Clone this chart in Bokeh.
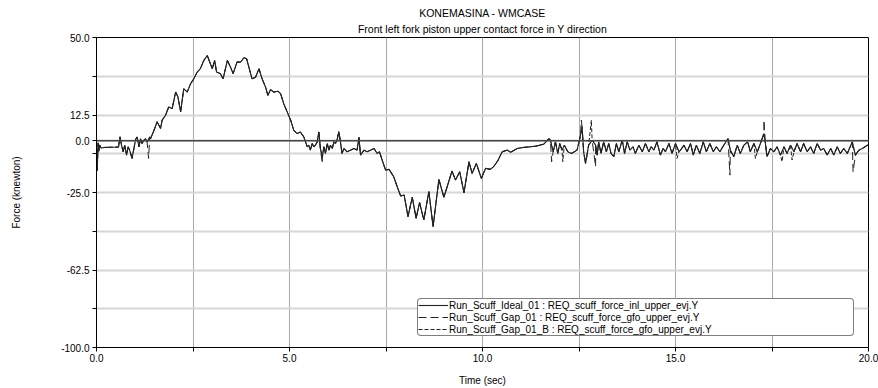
from bokeh.plotting import figure
from bokeh.models import Range1d, FixedTicker, Title, Legend, LegendItem, Span
from bokeh.embed import file_html
from bokeh.resources import INLINE

title_main = "KONEMASINA - WMCASE"
title_sub = "Front left fork piston upper contact force in Y direction"
x_label = "Time (sec)"
y_label = "Force (knewton)"
series_names = [
    "Run_Scuff_Ideal_01 : REQ_scuff_force_inl_upper_evj.Y",
    "Run_Scuff_Gap_01 : REQ_scuff_force_gfo_upper_evj.Y",
    "Run_Scuff_Gap_01_B : REQ_scuff_force_gfo_upper_evj.Y",
]

x_ticks = [0, 2.5, 5, 7.5, 10, 12.5, 15, 17.5, 20]
x_tick_labels = {0: "0.0", 5: "5.0", 10: "10.0", 15: "15.0", 20: "20.0"}
y_ticks = [-100, -81.25, -62.5, -43.75, -25, -6.25, 0, 12.5, 31.25, 50]
y_tick_labels = {50: "50.0", 12.5: "12.5", 0: "0.0", -25: "-25.0", -62.5: "-62.5", -100: "-100.0"}

# Run_Scuff_Ideal_01 (time in s, force in knewton)
ideal_t = [
    0.00, 0.02, 0.04, 0.06, 0.08, 0.12, 0.20, 0.57, 0.61, 0.64, 0.69, 0.73, 0.78, 0.82, 0.86,
    0.92, 0.97, 1.01, 1.05, 1.10, 1.14, 1.18, 1.23, 1.27, 1.31, 1.38,
    1.40, 1.49, 1.57, 1.66, 1.70, 1.79, 1.87, 1.96, 2.05, 2.11, 2.18, 2.26, 2.35, 2.44, 2.52,
    2.61, 2.69, 2.78, 2.87, 2.95, 3.00, 3.06, 3.11, 3.21, 3.28, 3.39, 3.47, 3.54, 3.64, 3.73,
    3.82, 3.89, 3.97, 4.03, 4.12, 4.21, 4.29, 4.38, 4.44, 4.51, 4.59, 4.70, 4.77, 4.85, 4.94,
    5.03, 5.11, 5.20, 5.28, 5.37, 5.46,
    5.50, 5.54, 5.59, 5.63, 5.67, 5.72, 5.76, 5.80, 5.85, 5.89, 5.93, 5.98, 6.02, 6.06, 6.11,
    6.15, 6.19, 6.23, 6.28, 6.32, 6.36, 6.41, 6.49, 6.58, 6.67, 6.75, 6.80, 6.84, 6.93, 7.01,
    7.10, 7.19, 7.27, 7.33,
    7.40, 7.49, 7.58, 7.70, 7.79, 7.88, 7.97, 8.07, 8.18, 8.28, 8.37, 8.48, 8.61, 8.72, 8.87,
    9.00, 9.21, 9.30, 9.41, 9.52, 9.65, 9.73, 9.84, 9.97, 10.08, 10.20, 10.29, 10.40, 10.51,
    10.64, 10.73, 10.90, 11.05, 11.24, 11.40, 11.59, 11.72,
    11.76, 11.83, 11.89, 11.95, 12.00, 12.06, 12.12, 12.21, 12.30, 12.38, 12.45, 12.54, 12.58,
    12.62, 12.67, 12.75, 12.84, 12.93, 12.97, 13.01, 13.07, 13.14, 13.21, 13.27, 13.33, 13.40,
    13.47, 13.53, 13.62, 13.68, 13.75, 13.82, 13.90, 13.96, 14.05, 14.14, 14.22, 14.31, 14.37,
    14.44, 14.52, 14.61, 14.68, 14.74, 14.83, 14.91, 15.00, 15.09,
    15.13, 15.22, 15.30, 15.39, 15.46, 15.54, 15.63, 15.72, 15.80, 15.89, 15.98, 16.06, 16.15,
    16.25, 16.36, 16.42, 16.51, 16.60, 16.68, 16.77, 16.87, 16.94, 17.03, 17.12, 17.20, 17.29,
    17.33, 17.37, 17.46, 17.55, 17.63, 17.72, 17.81, 17.89, 17.98, 18.07, 18.15, 18.24, 18.32,
    18.41, 18.50, 18.58, 18.67, 18.76, 18.84, 18.93, 19.02, 19.10, 19.19, 19.27, 19.36, 19.45,
    19.58, 19.66, 19.75, 19.84, 19.97, 20.00,
]
ideal_v = [
    -3.0, -14.5, -1.0, -5.0, -2.0, -3.5, -3.2, -3.0, 1.9, -1.3, -5.3, -2.1, -6.9, -2.9, -4.5,
    -8.5, -3.7, 0.5, 1.9, -2.9, 1.1, -1.3, 0.3, 1.1, -0.5, 1.9,
    1.0, 5.1, 9.2, 6.0, 10.0, 12.4, 16.4, 15.6, 23.6, 21.2, 14.0, 25.2, 23.6, 27.7, 30.0,
    33.3, 34.9, 38.9, 41.3, 37.3, 34.9, 38.9, 33.3, 32.5, 30.0, 38.9, 35.7, 32.5, 38.1, 38.1,
    40.2, 39.7, 34.1, 30.0, 30.8, 34.9, 30.0, 26.0, 22.0, 24.8, 23.6, 24.0, 22.8, 18.0, 14.0,
    10.0, 5.1, 3.5, 4.3, 1.9, -2.9,
    -2.1, -4.5, -1.3, -2.9, -2.1, -0.5, 4.3, -3.7, -8.0, -2.9, -6.1, -1.3, -4.5, -2.1, -3.7,
    -0.5, -1.3, 0.3, 4.3, -0.5, -6.1, -3.7, -5.3, -4.5, -3.7, -4.5, 1.6, -6.9, -4.5, -5.3,
    -4.5, -3.7, -6.1, -5.3,
    -9.3, -14.2, -13.8, -17.4, -22.2, -26.7, -26.2, -36.7, -27.3, -37.5, -29.9, -38.3, -24.6, -41.5, -18.7,
    -27.3, -14.6, -19.0, -15.0, -25.1, -10.1, -15.8, -10.9, -18.2, -13.3, -13.8, -12.5, -9.5, -5.3,
    -4.5, -5.5, -3.7, -3.2, -2.9, -2.5, -1.6, 1.1,
    0.3, -5.3, -0.5, -6.1, -1.3, -4.5, -2.1, -5.3, -6.1, -5.3, -4.5, 2.7, 6.8,
    -5.3, -10.9, -2.1, 0.3, -2.1, -6.9, -0.5, -6.1, -0.5, -5.3, -1.3, -6.1, -7.7,
    -1.3, -5.3, 0.3, -6.1, -0.5, -4.5, -2.9, -6.1, -2.1, -5.3, -1.3, -5.3, -2.9,
    -4.5, -0.5, -6.9, -3.7, -5.3, -1.3, -6.1, -1.3, -5.3,
    -4.5, -2.1, -5.3, -1.3, -6.9, -2.1, -6.1, -0.5, -5.3, -1.3, -5.3, -2.9, -5.3,
    -2.1, 1.1, -4.5, -7.7, -2.1, -6.1, -2.1, -0.5, -5.3, -1.3, -5.3, -1.3, 3.5,
    -1.3, -7.7, -3.7, -5.3, -2.9, -6.9, -2.9, -6.1, -2.1, -5.3, -1.3, -5.3, -1.3,
    -5.3, -2.9, -6.1, -1.3, -4.5, -3.7, -6.9, -3.7, -6.9, -2.9, -6.1, -3.7, -6.1,
    -0.5, -6.9, -4.5, -3.7, -2.1, -2.5,
]

# Extra spikes where the gap runs depart from the ideal run
gap01_spike_t = [1.35, 5.85, 11.79, 12.56, 12.93, 16.41, 17.29, 19.60]
gap01_spike_v = [-8.5, -11.0, -10.1, 10.0, -12.5, -16.6, 10.0, -15.0]
gap01b_spike_t = [6.27, 12.08, 12.82, 15.04, 17.07, 17.76, 18.02]
gap01b_spike_v = [4.5, -10.1, 10.0, -8.5, -8.5, -10.1, -9.3]


def merged(base_t, base_v, spike_t, spike_v):
    pts = sorted(list(zip(base_t, base_v)) + list(zip(spike_t, spike_v)))
    return [a for a, _ in pts], [b for _, b in pts]


gap01_t, gap01_v = merged(ideal_t, ideal_v, gap01_spike_t, gap01_spike_v)
gap01b_t, gap01b_v = merged(ideal_t, ideal_v, gap01b_spike_t, gap01b_spike_v)

FONT = "Liberation Sans"
INK = "#222222"

p = figure(width=878, height=388, output_backend="svg", toolbar_location=None,
           x_range=Range1d(0, 20), y_range=Range1d(-100, 50),
           min_border_left=96, min_border_right=10, min_border_top=37, min_border_bottom=40)

p.title.text = title_main
p.title.align = "center"
p.title.text_font = FONT
p.title.text_font_size = "10.5px"
p.title.text_font_style = "normal"
p.title.text_color = "black"
p.title.standoff = 0
p.title.offset = 0
sub_t = Title(text=title_sub, align="center", text_font=FONT, text_font_size="10.5px",
              text_font_style="normal", text_color="black", standoff=5)
p.add_layout(sub_t, "above")

p.background_fill_color = "white"
p.border_fill_color = "white"
p.outline_line_color = "black"
p.outline_line_width = 1

for ax, ticks, labels in ((p.xaxis[0], x_ticks, x_tick_labels), (p.yaxis[0], y_ticks, y_tick_labels)):
    ax.ticker = FixedTicker(ticks=ticks)
    ax.major_label_overrides = {t: labels.get(t, "") for t in ticks}
    ax.major_tick_out = 4
    ax.major_tick_in = 0
    ax.minor_tick_line_color = None
    ax.axis_line_color = "black"
    ax.major_tick_line_color = "black"
    ax.major_label_text_font = FONT
    ax.major_label_text_font_size = "10px"
    ax.major_label_text_color = "black"
    ax.axis_label_text_font = FONT
    ax.axis_label_text_font_size = "10px"
    ax.axis_label_text_font_style = "normal"
    ax.axis_label_text_color = "black"

p.xaxis.axis_label = x_label
p.yaxis.axis_label = y_label
p.xaxis.major_label_standoff = 2
p.xaxis.axis_label_standoff = 10
p.yaxis.major_label_standoff = 3
p.yaxis.axis_label_standoff = 36

p.xgrid.grid_line_color = "#a9a9a9"
p.xgrid.grid_line_width = 1
p.ygrid.grid_line_color = "#d6d6d6"
p.ygrid.grid_line_width = 2

zero = Span(location=0, dimension="width", line_color="#454545", line_width=1.5)
p.add_layout(zero)

r3 = p.line(gap01b_t, gap01b_v, line_color=INK, line_width=1, line_dash="4 2")
r2 = p.line(gap01_t, gap01_v, line_color=INK, line_width=1, line_dash="8 4")
r1 = p.line(ideal_t, ideal_v, line_color=INK, line_width=1.1)

legend = Legend(items=[LegendItem(label=series_names[0], renderers=[r1]),
                       LegendItem(label=series_names[1], renderers=[r2]),
                       LegendItem(label=series_names[2], renderers=[r3])],
                location=(321, 11), orientation="vertical",
                border_line_color="black", border_line_width=1, background_fill_color="white",
                background_fill_alpha=1.0, padding=0, spacing=0, margin=0,
                glyph_width=30, glyph_height=12, label_height=12, label_standoff=1,
                label_text_font=FONT, label_text_font_size="10px", label_text_color="black",
                label_width=404)
try:
    legend.border_radius = 4
except Exception:
    pass
p.add_layout(legend)

open("out.html", "w").write(file_html(p, INLINE))
